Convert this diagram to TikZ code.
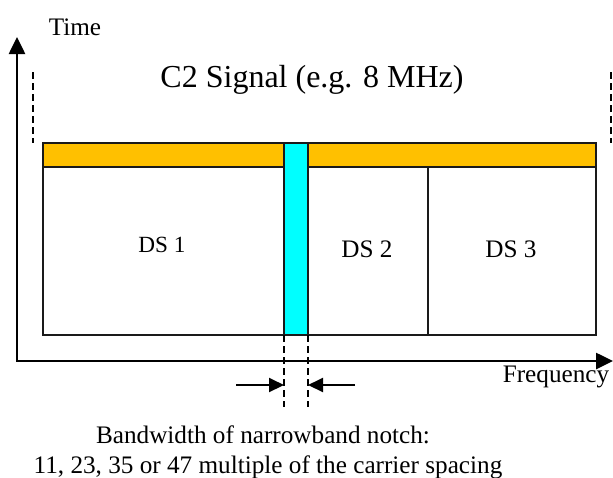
\documentclass[tikz,border=0pt]{standalone}
\usepackage{fontspec}
\setmainfont{Liberation Serif}
\usetikzlibrary{arrows.meta,positioning,calc}
\definecolor{CGold}{HTML}{FFC000}
\definecolor{CCyan}{HTML}{00FFFF}
\definecolor{CLine}{HTML}{1A1A1A}

\begin{document}
\begin{tikzpicture}[x=0.5pt,y=-0.5pt,
    axes/.style={line width=1.3pt,{Triangle[length=8.5pt,width=8pt]}-{Triangle[length=8.5pt,width=8pt]}},
    guide/.style={line width=0.6pt,dash pattern=on 3.5pt off 2pt},
    pointer/.style={line width=1pt,-{Triangle[length=7.5pt,width=7pt]}},
    cell/.style={draw=CLine,line width=0.8pt,inner sep=0pt,outer sep=0pt,
                 anchor=north west,minimum height=84pt},
    lbl/.style={anchor=base,inner sep=0pt,font=\fontsize{12.6}{15}\selectfont}]
  \useasboundingbox (0,0) rectangle (613,477);

  % axes
  \coordinate (origin) at (17,361);
  \coordinate (timetip) at (17,37);
  \coordinate (freqtip) at (613,361);
  \draw[axes] (timetip) -- (origin) -- (freqtip);
  \node[lbl] (timelbl) at (75,35) {Time};
  \node[lbl] (freqlbl) at (556,382) {Frequency};

  % signal frame
  \node[lbl,font=\fontsize{16}{19}\selectfont] (title) at (312,87) {C2 Signal (e.g. 8 MHz)};
  \coordinate (edgeLtop) at (33,72);
  \coordinate (edgeLbot) at (33,143);
  \coordinate (edgeRtop) at (611,72);
  \coordinate (edgeRbot) at (611,143);
  \draw[guide] (edgeLtop) -- (edgeLbot);
  \draw[guide] (edgeRtop) -- (edgeRbot);

  % header and data slices
  \node[cell,fill=CGold,minimum width=276.5pt,minimum height=12pt] (header) at (43,143) {};
  \node[cell,minimum width=120.5pt] (ds1) at (43,167) {};
  \node[cell,minimum width=60pt] (ds2) at (308,167) {};
  \node[cell,minimum width=84pt] (ds3) at (428,167) {};
  \node[cell,fill=CCyan,minimum width=12pt,minimum height=96pt] (notch) at (284,143) {};
  \node[lbl,font=\fontsize{11.6}{14}\selectfont] (ds1lbl) at (162,252) {DS 1};
  \node[lbl] (ds2lbl) at (367,257) {DS 2};
  \node[lbl] (ds3lbl) at (511,257) {DS 3};

  % notch width
  \coordinate (notchL) at ($(notch.south west)+(0,72)$);
  \coordinate (notchR) at ($(notch.south east)+(0,72)$);
  \draw[guide] (notch.south west) -- (notchL);
  \draw[guide] (notch.south east) -- (notchR);
  \coordinate (ptrLfrom) at (236,385);
  \coordinate (ptrLto) at (284,385);
  \coordinate (ptrRfrom) at (355,385);
  \coordinate (ptrRto) at (308,385);
  \draw[pointer] (ptrLfrom) -- (ptrLto);
  \draw[pointer] (ptrRfrom) -- (ptrRto);

  \node[lbl] (capline1) at (263,443) {Bandwidth of narrowband notch:};
  \node[lbl] (capline2) at (268,473) {11, 23, 35 or 47 multiple of the carrier spacing};
\end{tikzpicture}
\end{document}
